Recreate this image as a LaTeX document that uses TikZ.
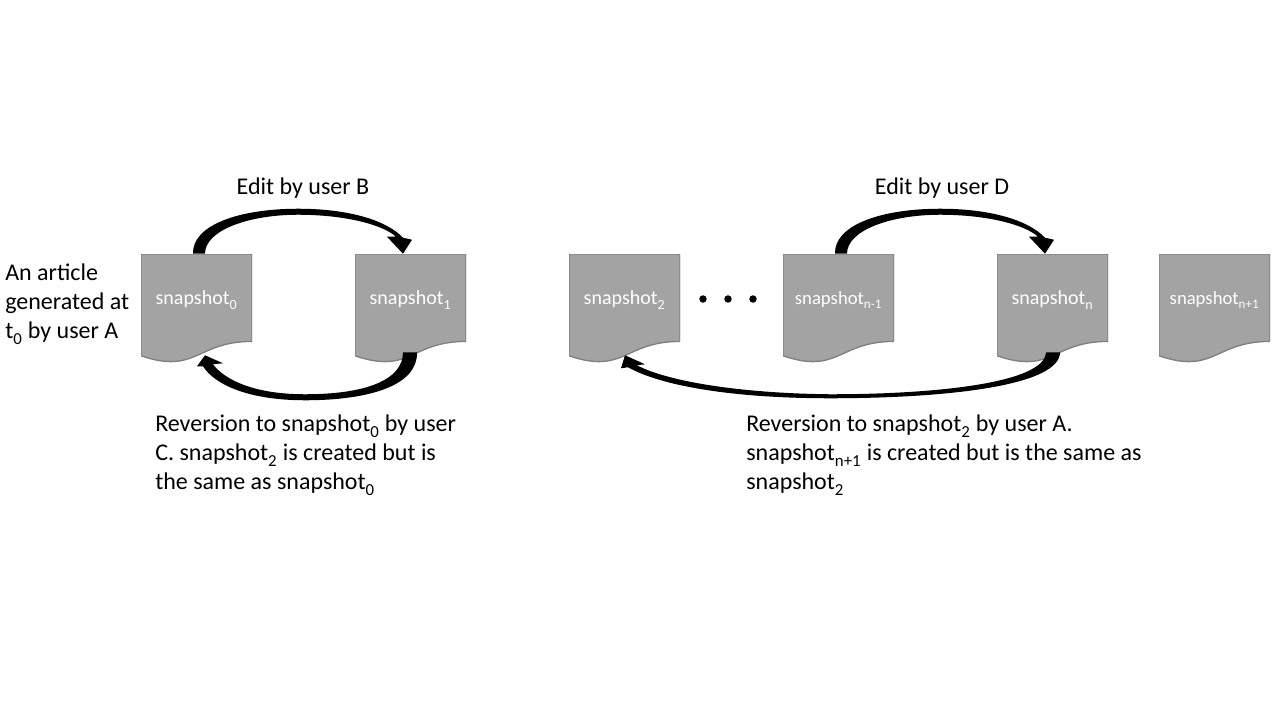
\documentclass[tikz,border=0pt]{standalone}
\usepackage{fontspec}
\setmainfont{Carlito}
\usepackage{xcolor}
\usetikzlibrary{calc,positioning}

\definecolor{snapgray}{RGB}{163,163,163}
\definecolor{snapedge}{RGB}{128,128,128}

\newcommand{\snapsub}[1]{\textsubscript{\raisebox{-0.14em}{#1}}}

\tikzset{
	snapbox/.style={rectangle,inner sep=0pt,minimum width=83.25pt,minimum height=81.75pt,
		text=white,text height=6pt,text depth=12.5pt,font=\fontsize{15pt}{18pt}\selectfont,
		path picture={
			\path[fill=snapgray,draw=snapedge,line width=1pt]
			(path picture bounding box.north west) -- (path picture bounding box.north east)
			-- ($(path picture bounding box.north east)!0.802!(path picture bounding box.south east)$)
			.. controls ($(path picture bounding box.north)!0.802!(path picture bounding box.south)$)
			and ($(path picture bounding box.north)!1.1075!(path picture bounding box.south)$)
			.. ($(path picture bounding box.north west)!0.934!(path picture bounding box.south west)$)
			-- cycle;
		}},
	caption/.style={inner sep=0pt,align=left,font=\fontsize{18pt}{21.75pt}\selectfont},
	swoop/.style={fill=black}
}

\begin{document}
\begin{tikzpicture}[x=0.75pt,y=-0.75pt]
\useasboundingbox (0,0) rectangle (1280,720);

\begin{scope}[every node/.style={snapbox}]
	\node (s0) at (196.5,308.5) {snapshot\snapsub{0}};
	\node (s1) at (410.5,308.5) {snapshot\snapsub{1}};
	\node (s2) at (624.5,308.5) {snapshot\snapsub{2}};
	\node[font=\fontsize{14pt}{17pt}\selectfont] (sn1) at (838.5,308.5) {snapshot\snapsub{n-1}};
	\node (sn) at (1052.5,308.5) {snapshot\snapsub{n}};
	\node[font=\fontsize{14pt}{17pt}\selectfont] (snp) at (1214.5,308.5) {snapshot\snapsub{n+1}};
\end{scope}

\foreach \x in {703,728,753}
	\fill (\x,299) circle (2.8pt);

\node[caption] (editB) at (303,188) {Edit by user B};
\node[caption] (editD) at (942,188) {Edit by user D};
\node[caption,anchor=north west] (article) at (5,264) {An article\\generated at\\t\snapsub{0} by user A};
\node[caption,anchor=north west] (revC) at (155,415) {Reversion to snapshot\snapsub{0} by user\\C. snapshot\snapsub{2} is created but is\\the same as snapshot\snapsub{0}};
\node[caption,anchor=north west] (revA) at (746,415) {Reversion to snapshot\snapsub{2} by user A.\\snapshot\snapsub{n+1} is created but is the same as\\snapshot\snapsub{2}};

% edits
\fill[swoop,shift={(s0.north)}] (-3.5,0) .. controls (-4.5,-29) and (43.5,-45) .. (101.5,-45)
	.. controls (153.5,-45) and (190.5,-33) .. (206.5,-16) -- (215.5,-14) -- (206.5,0) -- (190.5,-17) -- (199.5,-17)
	.. controls (186.5,-29) and (148.5,-39) .. (101.5,-39) .. controls (53.5,-39) and (8.5,-24) .. (8.5,0) -- cycle;
\fill[swoop,shift={(sn1.north)}] (-3.5,0) .. controls (-4.5,-29) and (43.5,-45) .. (101.5,-45)
	.. controls (153.5,-45) and (190.5,-33) .. (206.5,-16) -- (215.5,-14) -- (206.5,0) -- (190.5,-17) -- (199.5,-17)
	.. controls (186.5,-29) and (148.5,-39) .. (101.5,-39) .. controls (53.5,-39) and (8.5,-24) .. (8.5,0) -- cycle;

% reversions
\fill[swoop,shift={(s1.south)}] (6.5,-11) .. controls (7.5,22) and (-40.5,37) .. (-105.5,37)
	.. controls (-160.5,37) and (-195.5,22) .. (-207.5,3) -- (-213.5,3) -- (-205.5,-8) -- (-187.5,0) -- (-197.5,1)
	.. controls (-185.5,17) and (-155.5,31) .. (-105.5,31) .. controls (-45.5,31) and (-7.5,17) .. (-7.5,-11) -- cycle;
\fill[swoop,shift={(sn.south)}] (7.5,-11) .. controls (7.5,22) and (-102.5,35) .. (-222.5,35)
	.. controls (-322.5,35) and (-392.5,22) .. (-424.5,4) -- (-431.5,5) -- (-427.5,-8) -- (-407.5,1) -- (-415.5,2)
	.. controls (-387.5,17) and (-317.5,30) .. (-222.5,31) .. controls (-112.5,31) and (-7.5,19) .. (-6.5,-11) -- cycle;
\end{tikzpicture}
\end{document}
